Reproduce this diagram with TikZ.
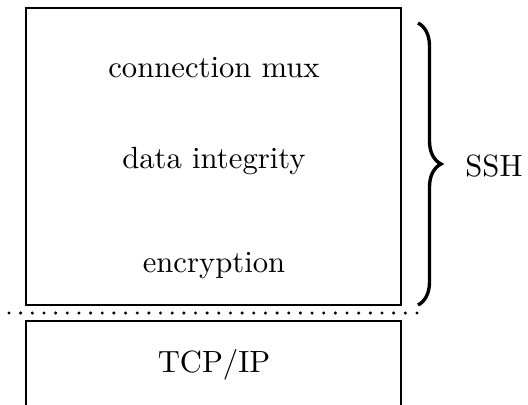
\documentclass[tikz,border=0pt]{standalone}
\usetikzlibrary{decorations.pathreplacing}
\begin{document}
\begin{tikzpicture}[x=0.326pt,y=-0.326pt,
  layerbox/.style={draw,line width=0.85pt,inner sep=0pt,outer sep=0pt,
    minimum width=122.25pt},
  label/.style={anchor=base,inner sep=0pt,font=\normalsize},
  sepline/.style={line width=1.1pt,line cap=round,dash pattern=on 0pt off 3.8pt},
  bracestyle/.style={decorate,decoration={brace,amplitude=7.5pt},line width=1.1pt}]
  \useasboundingbox (0,0) rectangle (528,405);
  \clip (0,0) rectangle (528,405);

  % the SSH protocol stack
  \node[layerbox,minimum height=96.8pt] (sshbox) at (213.5,156.5) {};
  \node[label] (mux) at (214,77) {connection mux};
  \node[label] (integ) at (214,168) {data integrity};
  \node[label] (enc) at (214,272) {encryption};

  % transport layer below
  \node[layerbox,minimum height=35.5pt] (tcpbox) at (213.5,375.5) {};
  \node[label] (tcp) at (214,372) {TCP/IP};

  % dotted boundary between the layers
  \coordinate (sepl) at (9,313);
  \coordinate (sepr) at (418,313);
  \draw[sepline] (sepl) -- (sepr);

  % brace grouping the SSH layers
  \coordinate (brtop) at (418,23);
  \coordinate (brbot) at (418,305);
  \draw[bracestyle] (brtop) -- (brbot);
  \node[label] (ssh) at (494,176) {SSH};
\end{tikzpicture}
\end{document}
